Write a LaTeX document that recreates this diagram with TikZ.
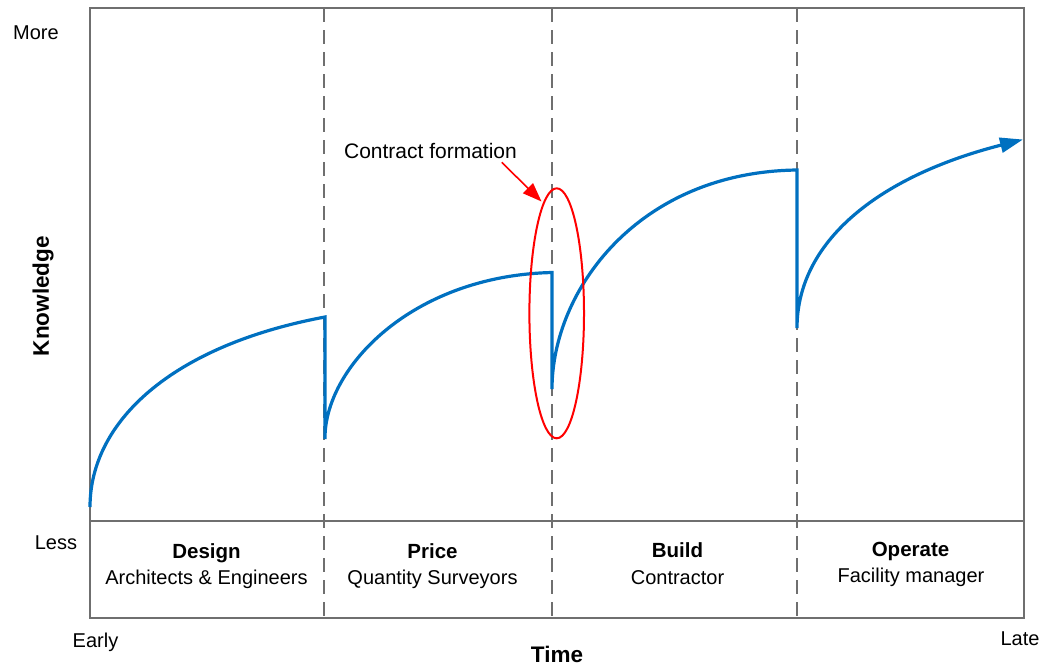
\documentclass[tikz,border=0pt]{standalone}
\usepackage{fontspec}
\setmainfont{Liberation Sans}
\usetikzlibrary{arrows.meta,shapes.geometric}
\definecolor{framegray}{HTML}{6F6F6F}
\definecolor{curveblue}{HTML}{0070C0}
\definecolor{markred}{HTML}{FF0000}
\begin{document}
\begin{tikzpicture}[x=1pt,y=-1pt,
  framebox/.style={draw=framegray, line width=2pt},
  phaseline/.style={draw=framegray, line width=2pt, dash pattern=on 14pt off 8pt},
  knowcurve/.style={draw=curveblue, line width=3.2pt, line join=miter},
  lbl/.style={font=\fontsize{20}{24}\selectfont, inner sep=0pt, anchor=base},
  phasehead/.style={lbl, font=\bfseries\fontsize{20.5}{24}\selectfont},
  axislbl/.style={font=\bfseries\fontsize{22.5}{26}\selectfont, inner sep=0pt},
  redring/.style={draw=markred, line width=2pt, ellipse, inner sep=0pt, minimum width=54.6pt, minimum height=250pt},
  redarrow/.style={draw=markred, line width=1.6pt, -{Triangle[length=19pt,width=14pt]}}
]
\useasboundingbox (0,0) rectangle (1040,665);

% phase separators
\coordinate (s1t) at (324,8);   \coordinate (s1b) at (324,618);
\coordinate (s2t) at (552,8);   \coordinate (s2b) at (552,618);
\coordinate (s3t) at (797,8);   \coordinate (s3b) at (797,618);
\draw[phaseline] (s1t) -- (s1b);
\draw[phaseline] (s2t) -- (s2b);
\draw[phaseline] (s3t) -- (s3b);

% frame and divider
\coordinate (fl) at (90,520.5); \coordinate (fr) at (1024,520.5);
\draw[framebox] (90,8) rectangle (1024,618);
\draw[framebox] (fl) -- (fr);

% knowledge curve
\coordinate (d0) at (90,507);   \coordinate (d1) at (325,317);
\coordinate (p0) at (325,439);  \coordinate (p1) at (552,272.5);
\coordinate (b0) at (552,389);  \coordinate (b1) at (797,170);
\coordinate (o0) at (797,328);  \coordinate (o1) at (1023,139.5);
\draw[knowcurve, -{Triangle[length=23pt,width=15pt]}]
  (d0) .. controls (90,421.5) and (172,345.5) .. (d1)
  -- (p0) .. controls (324,369) and (410.6,275.8) .. (p1)
  -- (b0) .. controls (552,290.5) and (638,172) .. (b1)
  -- (o0) .. controls (797,243) and (876,177) .. (o1);

% contract formation marker
\node[redring] (ring) at (556.7,313.3) {};
\node[lbl, font=\fontsize{21}{25}\selectfont] (cf) at (430.5,158) {Contract formation};
\coordinate (cfstart) at (501.7,162.3);
\coordinate (cftip) at (541.5,201.5);
\draw[redarrow] (cfstart) -- (cftip);

% axis labels
\node[lbl] (more) at (36,39) {More};
\node[lbl] (less) at (56,549) {Less};
\node[lbl] (early) at (95.5,647) {Early};
\node[lbl] (late) at (1020,645) {Late};
\node[axislbl, anchor=base] (time) at (557,662) {Time};
\node[axislbl, rotate=90] (know) at (43,296) {Knowledge};

% phases
\node[phasehead] (design) at (206.5,558) {Design};
\node[lbl] (designsub) at (206.5,584) {Architects \& Engineers};
\node[phasehead] (price) at (432.5,558) {Price};
\node[lbl] (pricesub) at (432.5,584) {Quantity Surveyors};
\node[phasehead] (build) at (677.5,557) {Build};
\node[lbl] (buildsub) at (677.5,584) {Contractor};
\node[phasehead] (operate) at (910.5,556) {Operate};
\node[lbl] (operatesub) at (911,582) {Facility manager};
\end{tikzpicture}
\end{document}
